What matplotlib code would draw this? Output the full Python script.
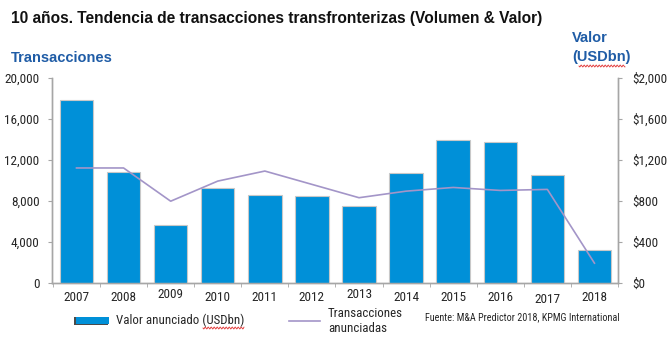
import matplotlib
matplotlib.use('Agg')
import matplotlib.pyplot as plt
import numpy as np

NARROW = ['Roboto Condensed', 'DejaVu Sans']
BOLD = ['Liberation Sans', 'DejaVu Sans']
plt.rcParams['font.family'] = NARROW

years = ['2007', '2008', '2009', '2010', '2011', '2012',
         '2013', '2014', '2015', '2016', '2017', '2018']
valor = [1785, 1078, 566, 919, 850, 843, 745, 1073, 1392, 1373, 1046, 321]
transacciones = [11180, 11180, 7940, 9900, 10880, 9580, 8280, 8920, 9280, 8990, 9090, 1900]
left_ticks = [0, 4000, 8000, 12000, 16000, 20000]
right_ticks = [0, 400, 800, 1200, 1600, 2000]

BLUE_BAR = '#0090d8'
LINE = '#a395c8'
TITLE_BLUE = '#1f5ca6'
AXIS_GREY = '#a6a6a6'
TEXT = '#262626'

W, H = 671, 343


def px(x, y):
    # pixel position (from top-left) -> figure fraction
    return x / W, 1 - y / H


def squiggle(x0, x1, y):
    xs = np.linspace(x0, x1, int((x1 - x0) * 2))
    ys = y + 1.0 * np.sin((xs - x0) * np.pi / 1.5)
    fx, fy = px(xs, ys)
    fig.lines.append(plt.Line2D(fx, fy, transform=fig.transFigure, color='#e03030', linewidth=0.6))


fig = plt.figure(figsize=(6.71, 3.43), dpi=100)
ax = fig.add_axes([0.0775, 0.176, 0.8435, 0.598])
ax2 = ax.twinx()

x = np.arange(len(years))

# bars go on the right (value) scale, line on the left (count) scale
ax2.bar(x, valor, width=0.71, color=BLUE_BAR, edgecolor='#c8c8c8', linewidth=0.8, zorder=2)
ax2.plot(x, np.array(transacciones) / 10.0, color=LINE, linewidth=1.2, zorder=3)
ax2.set_ylim(0, 2000)
ax.set_ylim(0, 20000)
ax.set_xlim(-0.52, 11.5)

ax.set_yticks(left_ticks)
ax.set_yticklabels(['{:,}'.format(v) for v in left_ticks])
ax2.set_yticks(right_ticks)
ax2.set_yticklabels(['${:,}'.format(v) for v in right_ticks])

ax.set_xticks(x)
ax.set_xticklabels(years)
ax.set_xticks(np.arange(-0.5, 11.6, 1), minor=True)
ax.tick_params(axis='x', which='major', length=0, pad=6, labelsize=9.5, labelcolor=TEXT)
ax.tick_params(axis='x', which='minor', length=3, color=AXIS_GREY, direction='out')
ax.tick_params(axis='y', length=3, color=AXIS_GREY, labelsize=9.5, labelcolor=TEXT, pad=6)
ax2.tick_params(axis='y', length=3, color=AXIS_GREY, labelsize=9.5, labelcolor=TEXT, pad=7)

# a few year labels sit slightly off the baseline
shifts = {2: 3, 6: 3, 10: -2}
for i, lab in enumerate(ax.get_xticklabels()):
    if i in shifts:
        lab.set_y(lab.get_position()[1] + shifts[i] / (H * 0.598))

for a in (ax, ax2):
    a.spines['top'].set_visible(False)
    for side in ('left', 'right', 'bottom'):
        a.spines[side].set_color(AXIS_GREY)
        a.spines[side].set_linewidth(1.0)

fig.text(*px(11, 18), '10 años. Tendencia de transacciones transfronterizas (Volumen & Valor)',
         fontsize=11.2, fontweight='bold', color='#111111', va='center', family=BOLD)
fig.text(*px(11, 57.5), 'Transacciones', fontsize=10.5, fontweight='bold', color=TITLE_BLUE,
         va='center', family=BOLD)
fig.text(*px(572, 38.5), 'Valor', fontsize=10.5, fontweight='bold', color=TITLE_BLUE,
         va='center', family=BOLD)
fig.text(*px(572, 57.5), '(USDbn)', fontsize=10.5, fontweight='bold', color=TITLE_BLUE,
         va='center', family=BOLD)
squiggle(579, 625, 66)

# legend drawn by hand along the bottom
fig.patches.append(plt.Rectangle(px(74, 325), 34 / W, 8 / H, transform=fig.transFigure,
                                 facecolor='#4a4a4a', edgecolor='none'))
fig.patches.append(plt.Rectangle(px(76, 323.5), 33 / W, 6.5 / H, transform=fig.transFigure,
                                 facecolor=BLUE_BAR, edgecolor='none'))
fig.text(*px(116, 320.5), 'Valor anunciado (USDbn)', fontsize=9.3, color=TEXT, va='center')
squiggle(203, 244, 328)
fx, fy = px(np.array([289, 320]), np.array([320.5, 320.5]))
fig.lines.append(plt.Line2D(fx, fy, transform=fig.transFigure, color=LINE, linewidth=1.2))
fig.text(*px(328, 321), 'Transacciones\nanunciadas', fontsize=9.3, color=TEXT, va='center',
         linespacing=1.25)
fig.text(*px(425, 317), 'Fuente: M&A Predictor 2018, KPMG International', fontsize=7.3,
         color=TEXT, va='center')

fig.savefig('out.png', dpi=100)
